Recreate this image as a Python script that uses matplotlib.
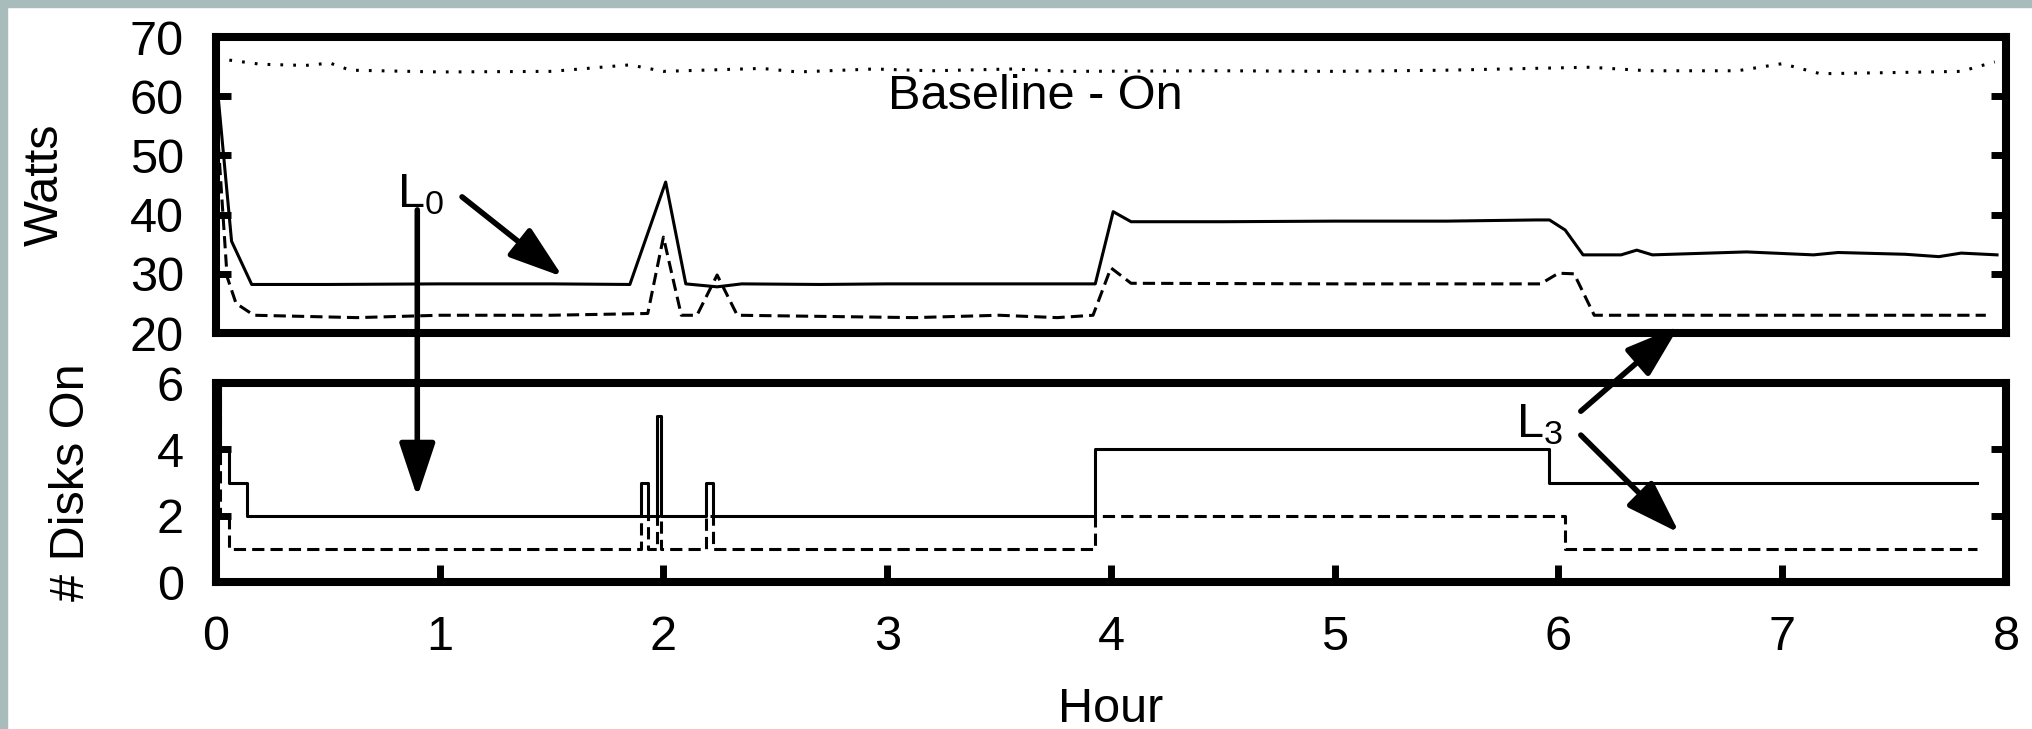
import matplotlib
matplotlib.use("Agg")
import matplotlib.pyplot as plt
from matplotlib.patches import Rectangle, ConnectionPatch

plt.rcParams['font.family'] = ['Liberation Sans', 'DejaVu Sans']
plt.rcParams['mathtext.fontset'] = 'custom'
plt.rcParams['mathtext.rm'] = 'Liberation Sans'
plt.rcParams['mathtext.default'] = 'regular'

# --- power draw (Watts) ---
hours_l0 = [0.00, 0.07, 0.16, 0.5, 1.0, 1.5, 1.85, 2.01, 2.10, 2.24, 2.35, 2.7, 3.0, 3.5, 3.93,
            4.01, 4.09, 4.5, 5.0, 5.5, 5.9, 5.96, 6.03, 6.11, 6.28, 6.35, 6.42, 6.84, 7.14, 7.25,
            7.55, 7.70, 7.80, 7.96]
watts_l0 = [64.0, 35.5, 28.2, 28.2, 28.3, 28.3, 28.2, 45.5, 28.3, 27.8, 28.3, 28.2, 28.3, 28.3, 28.3,
            40.5, 38.8, 38.8, 38.9, 38.9, 39.1, 39.1, 37.4, 33.2, 33.2, 34.0, 33.2, 33.7, 33.2, 33.6,
            33.3, 32.9, 33.5, 33.2]

hours_l3 = [0.00, 0.05, 0.09, 0.17, 0.63, 1.0, 1.5, 1.93, 2.00, 2.08, 2.15, 2.24, 2.33, 3.12, 3.5,
            3.76, 3.92, 4.00, 4.09, 5.0, 5.92, 6.00, 6.07, 6.16, 7.0, 7.91]
watts_l3 = [58.0, 29.5, 25.0, 23.0, 22.6, 23.0, 23.0, 23.3, 36.2, 23.0, 23.0, 29.8, 23.0, 22.6, 23.0,
            22.6, 23.0, 31.0, 28.4, 28.3, 28.3, 30.1, 30.0, 23.0, 23.0, 23.0]

hours_base = [0.06, 0.2, 0.4, 0.51, 0.6, 1.0, 1.5, 1.85, 2.0, 2.44, 2.6, 2.94, 3.2, 3.56, 3.8,
              4.5, 5.0, 5.5, 6.14, 6.4, 6.8, 7.0, 7.17, 7.5, 7.8, 7.95]
watts_base = [66.1, 65.4, 65.2, 65.6, 64.4, 64.1, 64.2, 65.3, 64.2, 64.7, 64.1, 64.6, 64.3, 64.6, 64.2,
              64.3, 64.2, 64.4, 64.9, 64.3, 64.3, 65.5, 63.8, 64.0, 64.2, 65.8]

# --- number of disks spinning ---
hours_disks_l0 = [0.0, 0.02, 0.06, 0.14, 1.90, 1.93, 1.97, 1.99, 2.19, 2.22, 3.93, 5.96, 7.87]
disks_l0 = [6, 4, 3, 2, 3, 2, 5, 2, 3, 2, 4, 3, 3]
hours_disks_l3 = [0.0, 0.02, 0.06, 1.90, 1.93, 1.97, 1.99, 2.19, 2.22, 3.93, 6.03, 7.87]
disks_l3 = [6, 2, 1, 2, 1, 2, 1, 2, 1, 2, 1, 1]

hour_ticks = [0, 1, 2, 3, 4, 5, 6, 7, 8]
watt_ticks = [20, 30, 40, 50, 60, 70]
disk_ticks = [0, 2, 4, 6]

FS = 35
fig = plt.figure(figsize=(20.33, 7.29), dpi=100)
ax1 = fig.add_axes([0.1062, 0.5432, 0.8805, 0.4060])
ax2 = fig.add_axes([0.1062, 0.2016, 0.8805, 0.2730])

# grey slide border
fig.add_artist(Rectangle((0, 0), 7 / 2033, 1, transform=fig.transFigure, color='#a9bcbc', zorder=0))
fig.add_artist(Rectangle((0, 1 - 7 / 729), 1, 7 / 729, transform=fig.transFigure, color='#a9bcbc', zorder=0))

ax1.plot(hours_l0, watts_l0, color='black', lw=2.2)
ax1.plot(hours_l3, watts_l3, color='black', lw=2.2, dashes=(4, 2))
ax1.plot(hours_base, watts_base, color='black', lw=2.2, dashes=(0.9, 3.3))
ax1.text(3.66, 60.0, "Baseline - On", fontsize=FS, ha='center', va='center')

ax2.plot(hours_disks_l0, disks_l0, color='black', lw=2.2, drawstyle='steps-post')
ax2.plot(hours_disks_l3, disks_l3, color='black', lw=2.2, dashes=(4, 2), drawstyle='steps-post')

for ax in (ax1, ax2):
    ax.set_xlim(0, 8)
    for s in ax.spines.values():
        s.set_linewidth(5.8)
    ax.tick_params(axis='y', direction='in', length=11, width=5, left=True, right=True,
                   labelsize=FS, pad=23)
    ax.tick_params(axis='x', direction='in', length=12, width=5, top=False, labelsize=FS, pad=24)

ax1.set_ylim(20, 70)
ax1.set_yticks(watt_ticks)
ax1.set_xticks([])
ax1.set_ylabel("Watts", fontsize=FS, labelpad=45)

ax2.set_ylim(0, 6)
ax2.set_yticks(disk_ticks)
ax2.set_xticks(hour_ticks)
ax2.set_xlabel("Hour", fontsize=FS, labelpad=19)
ax2.set_ylabel("# Disks On", fontsize=FS, labelpad=45)

# annotations
arrow = dict(arrowstyle='-|>,head_length=1.5,head_width=0.5', mutation_scale=22,
             lw=4.0, color='black', shrinkA=0, shrinkB=0)
ax1.text(0.81, 41.2, r"L$_0$", fontsize=FS, ha='left', va='baseline')
ax1.annotate('', xy=(1.55, 29.5), xytext=(1.10, 43.0), arrowprops=arrow)
fig.add_artist(ConnectionPatch((0.90, 40.8), (0.90, 2.56), coordsA=ax1.transData,
                               coordsB=ax2.transData, **arrow))

ax2.text(5.81, 4.37, r"L$_3$", fontsize=FS, ha='left', va='baseline')
fig.add_artist(ConnectionPatch((6.10, 5.15), (6.54, 21.2), coordsA=ax2.transData,
                               coordsB=ax1.transData, **arrow))
fig.add_artist(ConnectionPatch((6.10, 4.43), (6.54, 1.48), coordsA=ax2.transData,
                               coordsB=ax2.transData, **arrow))

fig.savefig("out.png", dpi=100)
